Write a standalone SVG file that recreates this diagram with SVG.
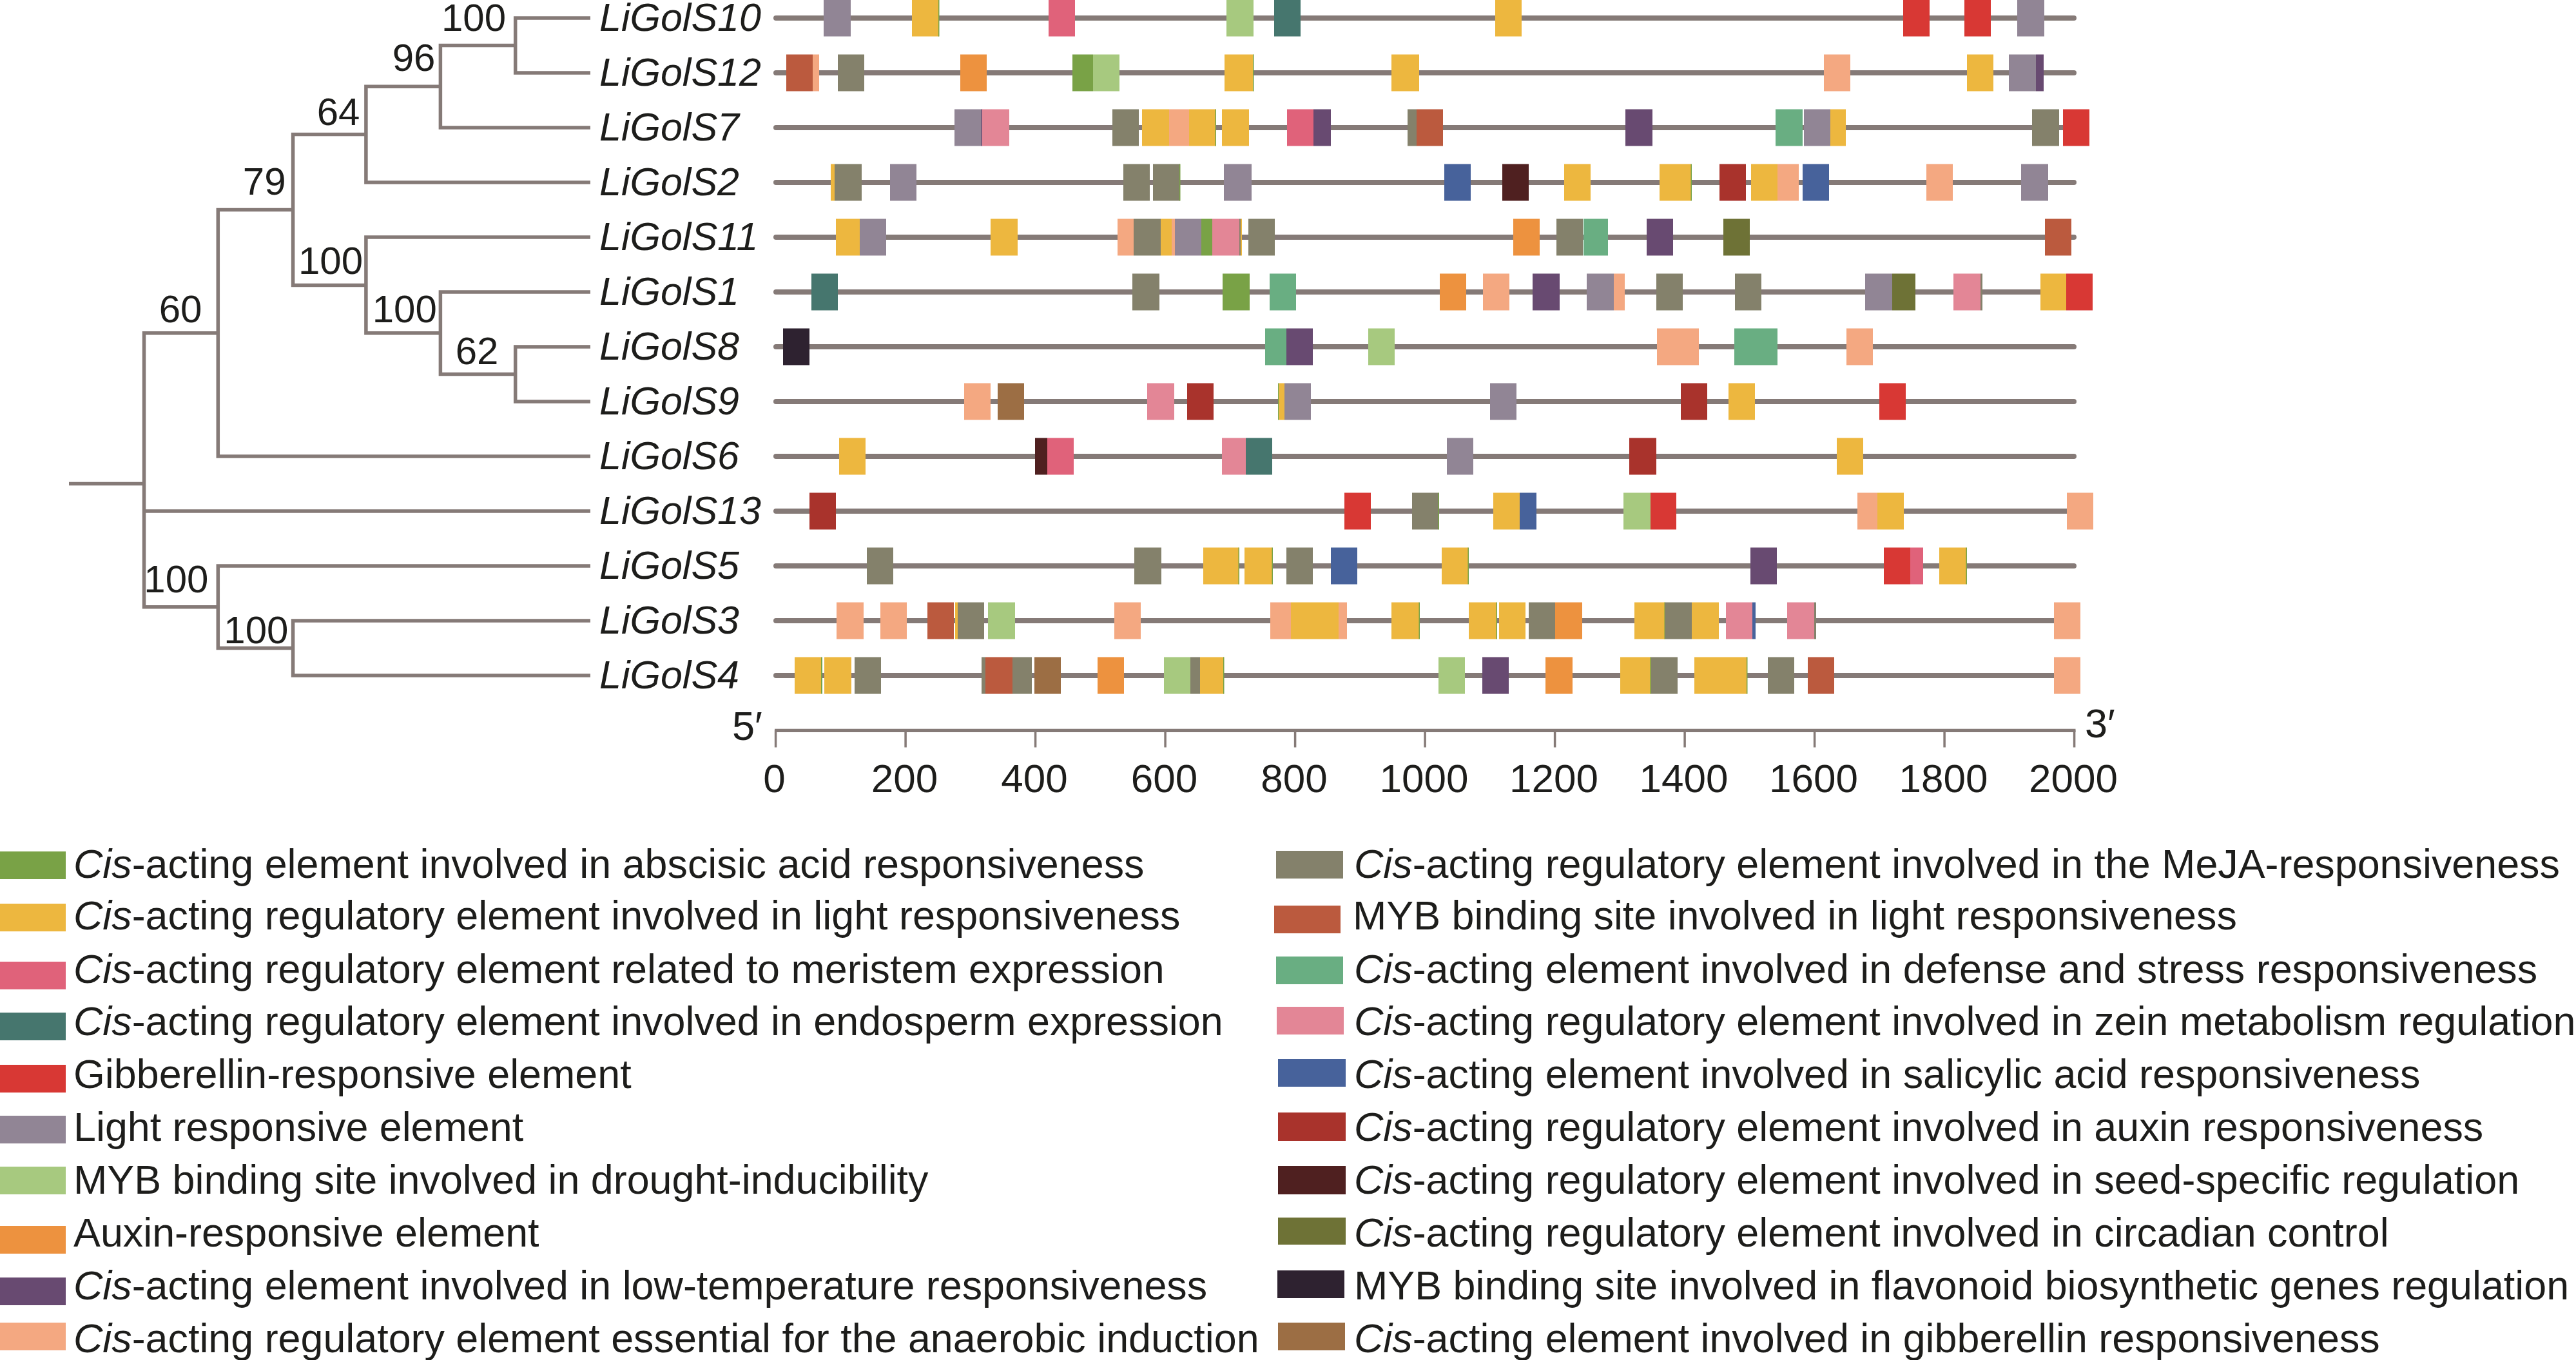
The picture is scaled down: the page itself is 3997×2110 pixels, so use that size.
<svg xmlns="http://www.w3.org/2000/svg" width="3997" height="2110" viewBox="0 0 3997 2110">
<style>
text{font-family:"Liberation Sans",Arial,sans-serif;fill:#1d1d1b}
.lab{font-size:61px;font-style:italic}
.bs{font-size:60px;text-anchor:end}
.ax{font-size:62px;text-anchor:middle}
.lg{font-size:62.8px}
.tr{stroke:#857a77;stroke-width:8;stroke-linecap:round;fill:none}
.tree{stroke:#857a77;stroke-width:5.5;fill:none;stroke-linejoin:miter}
.aba{fill:#79a246}.lr{fill:#edb73f}.mer{fill:#e0627a}.endo{fill:#46766e}.ga{fill:#d83834}
.lre{fill:#918595}.dro{fill:#a7c97f}.aux{fill:#ed923f}.lt{fill:#684a71}.ana{fill:#f4a881}
.mj{fill:#84816b}.myl{fill:#bb5a3e}.def{fill:#69ae82}.zein{fill:#e38696}.sa{fill:#47629b}
.auxr{fill:#a9332c}.seed{fill:#4f2020}.circ{fill:#6e7236}.flav{fill:#2e2230}.gab{fill:#9c6e44}
</style>

<g id="connectors">
<path class="tree" d="M107,750.5 H223.5 M338.3,516.75 H223.5 V941.75 H338.3 M223.5,793 H916"/>
<path class="tree" d="M454.6,325.5 H338.3 V708 H916"/>
<path class="tree" d="M567.9,208.6 H454.6 V442.4 H567.9"/>
<path class="tree" d="M683.4,134.25 H567.9 V283 H916"/>
<path class="tree" d="M799.7,70.5 H683.4 V198 H916"/>
<path class="tree" d="M916,28 H799.7 V113 H916"/>
<path class="tree" d="M916,368 H567.9 V516.75 H683.4"/>
<path class="tree" d="M916,453 H683.4 V580.5 H799.7"/>
<path class="tree" d="M916,538 H799.7 V623 H916"/>
<path class="tree" d="M916,878 H338.3 V1005.5 H454.6"/>
<path class="tree" d="M916,963 H454.6 V1048 H916"/>
</g>

<g id="bootstrap">
<text class="bs" x="785" y="47.7">100</text>
<text class="bs" x="675.5" y="110">96</text>
<text class="bs" x="558.4" y="194.3">64</text>
<text class="bs" x="443.6" y="301.6">79</text>
<text class="bs" x="313.5" y="499.5">60</text>
<text class="bs" x="563" y="425.1">100</text>
<text class="bs" x="677.8" y="499.5">100</text>
<text class="bs" x="773.4" y="564.7">62</text>
<text class="bs" x="323.4" y="919">100</text>
<text class="bs" x="447.4" y="997.6">100</text>
</g>

<g id="row-LiGolS10" transform="translate(0,0)">
<text class="lab" x="930" y="47.8">LiGolS10</text>
<path class="tr" d="M1204,28 H3218"/>
<rect class="lre" x="1278" y="-0.5" width="42" height="57"/>
<rect class="lr" x="1415" y="-0.5" width="42" height="57"/>
<rect class="aba" x="1456" y="-0.5" width="1.5" height="57"/>
<rect class="mer" x="1627" y="-0.5" width="41" height="57"/>
<rect class="dro" x="1903" y="-0.5" width="42" height="57"/>
<rect class="endo" x="1977" y="-0.5" width="41" height="57"/>
<rect class="lr" x="2320" y="-0.5" width="41" height="57"/>
<rect class="ga" x="2953" y="-0.5" width="41" height="57"/>
<rect class="ga" x="3048" y="-0.5" width="41" height="57"/>
<rect class="lre" x="3130" y="-0.5" width="42" height="57"/>
</g>

<g id="row-LiGolS12" transform="translate(0,85)">
<text class="lab" x="930" y="47.8">LiGolS12</text>
<path class="tr" d="M1204,28 H3218"/>
<rect class="myl" x="1220" y="-0.5" width="41" height="57"/>
<rect class="ana" x="1261" y="-0.5" width="10" height="57"/>
<rect class="mj" x="1300" y="-0.5" width="41" height="57"/>
<rect class="aux" x="1490" y="-0.5" width="41" height="57"/>
<rect class="aba" x="1664" y="-0.5" width="32" height="57"/>
<rect class="dro" x="1696" y="-0.5" width="41" height="57"/>
<rect class="lr" x="1900" y="-0.5" width="45" height="57"/>
<rect class="aba" x="1944" y="-0.5" width="1.5" height="57"/>
<rect class="lr" x="2159" y="-0.5" width="43" height="57"/>
<rect class="ana" x="2830" y="-0.5" width="41" height="57"/>
<rect class="lr" x="3052" y="-0.5" width="41" height="57"/>
<rect class="lre" x="3117" y="-0.5" width="42" height="57"/>
<rect class="lt" x="3159" y="-0.5" width="12" height="57"/>
</g>

<g id="row-LiGolS7" transform="translate(0,170)">
<text class="lab" x="930" y="47.8">LiGolS7</text>
<path class="tr" d="M1204,28 H3218"/>
<rect class="lre" x="1481" y="-0.5" width="42" height="57"/>
<rect class="lt" x="1522.6" y="-0.5" width="1.6" height="57"/>
<rect class="zein" x="1524" y="-0.5" width="42" height="57"/>
<rect class="mj" x="1726" y="-0.5" width="41" height="57"/>
<rect class="lr" x="1772" y="-0.5" width="42" height="57"/>
<rect class="ana" x="1814" y="-0.5" width="31" height="57"/>
<rect class="lr" x="1845" y="-0.5" width="41.5" height="57"/>
<rect class="aba" x="1885.5" y="-0.5" width="1.5" height="57"/>
<rect class="lr" x="1896" y="-0.5" width="42" height="57"/>
<rect class="mer" x="1997" y="-0.5" width="41" height="57"/>
<rect class="lt" x="2038" y="-0.5" width="27" height="57"/>
<rect class="mj" x="2184" y="-0.5" width="14" height="57"/>
<rect class="myl" x="2198" y="-0.5" width="41" height="57"/>
<rect class="lt" x="2522" y="-0.5" width="42" height="57"/>
<rect class="def" x="2755" y="-0.5" width="42" height="57"/>
<rect class="lre" x="2799" y="-0.5" width="41" height="57"/>
<rect class="lr" x="2840" y="-0.5" width="24" height="57"/>
<rect class="mj" x="3153" y="-0.5" width="42" height="57"/>
<rect class="ga" x="3201" y="-0.5" width="41" height="57"/>
</g>

<g id="row-LiGolS2" transform="translate(0,255)">
<text class="lab" x="930" y="47.8">LiGolS2</text>
<path class="tr" d="M1204,28 H3218"/>
<rect class="lr" x="1289" y="-0.5" width="6" height="57"/>
<rect class="mj" x="1295" y="-0.5" width="42" height="57"/>
<rect class="lre" x="1381" y="-0.5" width="41" height="57"/>
<rect class="mj" x="1743" y="-0.5" width="41" height="57"/>
<rect class="mj" x="1789" y="-0.5" width="42" height="57"/>
<rect class="aba" x="1830" y="-0.5" width="1.5" height="57"/>
<rect class="lre" x="1899" y="-0.5" width="43" height="57"/>
<rect class="sa" x="2241" y="-0.5" width="41" height="57"/>
<rect class="seed" x="2331" y="-0.5" width="41" height="57"/>
<rect class="lr" x="2427" y="-0.5" width="41" height="57"/>
<rect class="lr" x="2575" y="-0.5" width="49" height="57"/>
<rect class="aba" x="2623.5" y="-0.5" width="1.5" height="57"/>
<rect class="auxr" x="2668" y="-0.5" width="41" height="57"/>
<rect class="lr" x="2717" y="-0.5" width="41" height="57"/>
<rect class="ana" x="2758" y="-0.5" width="33" height="57"/>
<rect class="sa" x="2797" y="-0.5" width="41" height="57"/>
<rect class="ana" x="2989" y="-0.5" width="41" height="57"/>
<rect class="lre" x="3136" y="-0.5" width="42" height="57"/>
</g>

<g id="row-LiGolS11" transform="translate(0,340)">
<text class="lab" x="930" y="47.8">LiGolS11</text>
<path class="tr" d="M1204,28 H3218"/>
<rect class="lr" x="1297" y="-0.5" width="37" height="57"/>
<rect class="lre" x="1334" y="-0.5" width="41" height="57"/>
<rect class="lr" x="1537" y="-0.5" width="42" height="57"/>
<rect class="ana" x="1734" y="-0.5" width="25" height="57"/>
<rect class="mj" x="1759" y="-0.5" width="42" height="57"/>
<rect class="lr" x="1801" y="-0.5" width="17" height="57"/>
<rect class="ana" x="1818" y="-0.5" width="5" height="57"/>
<rect class="lre" x="1823" y="-0.5" width="41" height="57"/>
<rect class="aba" x="1864" y="-0.5" width="17" height="57"/>
<rect class="zein" x="1881" y="-0.5" width="42" height="57"/>
<rect class="mj" x="1923" y="-0.5" width="2" height="57"/>
<rect class="lr" x="1925" y="-0.5" width="2" height="57"/>
<rect class="mj" x="1937" y="-0.5" width="41" height="57"/>
<rect class="aux" x="2348" y="-0.5" width="41" height="57"/>
<rect class="mj" x="2415" y="-0.5" width="41" height="57"/>
<rect class="def" x="2457" y="-0.5" width="38" height="57"/>
<rect class="lt" x="2555" y="-0.5" width="41" height="57"/>
<rect class="circ" x="2674" y="-0.5" width="41" height="57"/>
<rect class="myl" x="3173" y="-0.5" width="41" height="57"/>
</g>

<g id="row-LiGolS1" transform="translate(0,425)">
<text class="lab" x="930" y="47.8">LiGolS1</text>
<path class="tr" d="M1204,28 H3218"/>
<rect class="endo" x="1259" y="-0.5" width="41" height="57"/>
<rect class="mj" x="1757" y="-0.5" width="42" height="57"/>
<rect class="aba" x="1897" y="-0.5" width="42" height="57"/>
<rect class="def" x="1970" y="-0.5" width="41" height="57"/>
<rect class="aux" x="2234" y="-0.5" width="41" height="57"/>
<rect class="ana" x="2301" y="-0.5" width="41" height="57"/>
<rect class="lt" x="2378" y="-0.5" width="42" height="57"/>
<rect class="lre" x="2462" y="-0.5" width="42" height="57"/>
<rect class="ana" x="2504" y="-0.5" width="17" height="57"/>
<rect class="mj" x="2570" y="-0.5" width="41" height="57"/>
<rect class="mj" x="2692" y="-0.5" width="41" height="57"/>
<rect class="lre" x="2894" y="-0.5" width="42" height="57"/>
<rect class="circ" x="2936" y="-0.5" width="36" height="57"/>
<rect class="zein" x="3031" y="-0.5" width="42" height="57"/>
<rect class="mj" x="3073" y="-0.5" width="3" height="57"/>
<rect class="lr" x="3166" y="-0.5" width="40" height="57"/>
<rect class="ga" x="3206" y="-0.5" width="41" height="57"/>
</g>

<g id="row-LiGolS8" transform="translate(0,510)">
<text class="lab" x="930" y="47.8">LiGolS8</text>
<path class="tr" d="M1204,28 H3218"/>
<rect class="flav" x="1215" y="-0.5" width="41" height="57"/>
<rect class="def" x="1963" y="-0.5" width="33" height="57"/>
<rect class="lt" x="1996" y="-0.5" width="41" height="57"/>
<rect class="dro" x="2123" y="-0.5" width="41" height="57"/>
<rect class="ana" x="2571" y="-0.5" width="65" height="57"/>
<rect class="def" x="2691" y="-0.5" width="67" height="57"/>
<rect class="ana" x="2865" y="-0.5" width="41" height="57"/>
</g>

<g id="row-LiGolS9" transform="translate(0,595)">
<text class="lab" x="930" y="47.8">LiGolS9</text>
<path class="tr" d="M1204,28 H3218"/>
<rect class="ana" x="1496" y="-0.5" width="41" height="57"/>
<rect class="gab" x="1548" y="-0.5" width="41" height="57"/>
<rect class="zein" x="1780" y="-0.5" width="42" height="57"/>
<rect class="auxr" x="1842" y="-0.5" width="41" height="57"/>
<rect class="aba" x="1983" y="-0.5" width="1.5" height="57"/>
<rect class="lr" x="1984.4" y="-0.5" width="8.8" height="57"/>
<rect class="lre" x="1993" y="-0.5" width="41" height="57"/>
<rect class="lre" x="2312" y="-0.5" width="41" height="57"/>
<rect class="auxr" x="2608" y="-0.5" width="41" height="57"/>
<rect class="lr" x="2682" y="-0.5" width="41" height="57"/>
<rect class="ga" x="2916" y="-0.5" width="41" height="57"/>
</g>

<g id="row-LiGolS6" transform="translate(0,680)">
<text class="lab" x="930" y="47.8">LiGolS6</text>
<path class="tr" d="M1204,28 H3218"/>
<rect class="lr" x="1302" y="-0.5" width="41" height="57"/>
<rect class="seed" x="1606" y="-0.5" width="19" height="57"/>
<rect class="mer" x="1625" y="-0.5" width="41" height="57"/>
<rect class="zein" x="1896" y="-0.5" width="37" height="57"/>
<rect class="endo" x="1933" y="-0.5" width="41" height="57"/>
<rect class="lre" x="2245" y="-0.5" width="41" height="57"/>
<rect class="auxr" x="2528" y="-0.5" width="42" height="57"/>
<rect class="lr" x="2850" y="-0.5" width="41" height="57"/>
</g>

<g id="row-LiGolS13" transform="translate(0,765)">
<text class="lab" x="930" y="47.8">LiGolS13</text>
<path class="tr" d="M1204,28 H3218"/>
<rect class="auxr" x="1256" y="-0.5" width="41" height="57"/>
<rect class="ga" x="2086" y="-0.5" width="41" height="57"/>
<rect class="mj" x="2191" y="-0.5" width="41" height="57"/>
<rect class="aba" x="2231.5" y="-0.5" width="1.5" height="57"/>
<rect class="lr" x="2317" y="-0.5" width="41" height="57"/>
<rect class="sa" x="2358" y="-0.5" width="26" height="57"/>
<rect class="dro" x="2519" y="-0.5" width="42" height="57"/>
<rect class="ga" x="2561" y="-0.5" width="40" height="57"/>
<rect class="ana" x="2882" y="-0.5" width="31" height="57"/>
<rect class="lr" x="2913" y="-0.5" width="41" height="57"/>
<rect class="ana" x="3207" y="-0.5" width="41" height="57"/>
</g>

<g id="row-LiGolS5" transform="translate(0,850)">
<text class="lab" x="930" y="47.8">LiGolS5</text>
<path class="tr" d="M1204,28 H3218"/>
<rect class="mj" x="1345" y="-0.5" width="41" height="57"/>
<rect class="mj" x="1760" y="-0.5" width="42" height="57"/>
<rect class="lr" x="1867" y="-0.5" width="55" height="57"/>
<rect class="aba" x="1921.5" y="-0.5" width="1.5" height="57"/>
<rect class="lr" x="1931" y="-0.5" width="43" height="57"/>
<rect class="aba" x="1973.5" y="-0.5" width="1.5" height="57"/>
<rect class="mj" x="1996" y="-0.5" width="41" height="57"/>
<rect class="sa" x="2065" y="-0.5" width="41" height="57"/>
<rect class="lr" x="2237" y="-0.5" width="41" height="57"/>
<rect class="aba" x="2277.5" y="-0.5" width="1.5" height="57"/>
<rect class="lt" x="2716" y="-0.5" width="41" height="57"/>
<rect class="ga" x="2923" y="-0.5" width="41" height="57"/>
<rect class="mer" x="2964" y="-0.5" width="20" height="57"/>
<rect class="lr" x="3009" y="-0.5" width="42" height="57"/>
<rect class="aba" x="3050.5" y="-0.5" width="1.5" height="57"/>
</g>

<g id="row-LiGolS3" transform="translate(0,935)">
<text class="lab" x="930" y="47.8">LiGolS3</text>
<path class="tr" d="M1204,28 H3218"/>
<rect class="ana" x="1298" y="-0.5" width="42" height="57"/>
<rect class="ana" x="1366" y="-0.5" width="41" height="57"/>
<rect class="myl" x="1439" y="-0.5" width="41" height="57"/>
<rect class="lr" x="1482" y="-0.5" width="4" height="57"/>
<rect class="mj" x="1486" y="-0.5" width="41" height="57"/>
<rect class="dro" x="1533" y="-0.5" width="42" height="57"/>
<rect class="ana" x="1729" y="-0.5" width="41" height="57"/>
<rect class="ana" x="1971" y="-0.5" width="32" height="57"/>
<rect class="lr" x="2003" y="-0.5" width="74" height="57"/>
<rect class="ana" x="2077" y="-0.5" width="13" height="57"/>
<rect class="lr" x="2159" y="-0.5" width="43" height="57"/>
<rect class="aba" x="2201.5" y="-0.5" width="1.5" height="57"/>
<rect class="lr" x="2279" y="-0.5" width="43" height="57"/>
<rect class="aba" x="2321.5" y="-0.5" width="1.5" height="57"/>
<rect class="lr" x="2326" y="-0.5" width="41" height="57"/>
<rect class="mj" x="2372" y="-0.5" width="41" height="57"/>
<rect class="aux" x="2413" y="-0.5" width="42" height="57"/>
<rect class="lr" x="2536" y="-0.5" width="47" height="57"/>
<rect class="aba" x="2582.5" y="-0.5" width="1.5" height="57"/>
<rect class="mj" x="2583.5" y="-0.5" width="41.5" height="57"/>
<rect class="lr" x="2625" y="-0.5" width="42" height="57"/>
<rect class="zein" x="2678" y="-0.5" width="41" height="57"/>
<rect class="sa" x="2719" y="-0.5" width="5" height="57"/>
<rect class="zein" x="2773" y="-0.5" width="42" height="57"/>
<rect class="mj" x="2815" y="-0.5" width="3" height="57"/>
<rect class="ana" x="3187" y="-0.5" width="41" height="57"/>
</g>

<g id="row-LiGolS4" transform="translate(0,1020)">
<text class="lab" x="930" y="47.8">LiGolS4</text>
<path class="tr" d="M1204,28 H3218"/>
<rect class="lr" x="1233" y="-0.5" width="41" height="57"/>
<rect class="aba" x="1274" y="-0.5" width="2" height="57"/>
<rect class="lr" x="1279" y="-0.5" width="42" height="57"/>
<rect class="mj" x="1326" y="-0.5" width="41" height="57"/>
<rect class="mj" x="1523" y="-0.5" width="6" height="57"/>
<rect class="myl" x="1529" y="-0.5" width="42" height="57"/>
<rect class="mj" x="1571" y="-0.5" width="30" height="57"/>
<rect class="gab" x="1605" y="-0.5" width="41" height="57"/>
<rect class="aux" x="1703" y="-0.5" width="41" height="57"/>
<rect class="dro" x="1806" y="-0.5" width="41" height="57"/>
<rect class="mj" x="1847" y="-0.5" width="15" height="57"/>
<rect class="lr" x="1862" y="-0.5" width="37" height="57"/>
<rect class="aba" x="1898" y="-0.5" width="1.5" height="57"/>
<rect class="dro" x="2232" y="-0.5" width="41" height="57"/>
<rect class="lt" x="2300" y="-0.5" width="41" height="57"/>
<rect class="aux" x="2398" y="-0.5" width="42" height="57"/>
<rect class="lr" x="2514" y="-0.5" width="47" height="57"/>
<rect class="aba" x="2560.5" y="-0.5" width="1.5" height="57"/>
<rect class="mj" x="2562" y="-0.5" width="41" height="57"/>
<rect class="lr" x="2629" y="-0.5" width="82" height="57"/>
<rect class="aba" x="2710" y="-0.5" width="1.5" height="57"/>
<rect class="mj" x="2743" y="-0.5" width="41" height="57"/>
<rect class="myl" x="2805" y="-0.5" width="41" height="57"/>
<rect class="ana" x="3187" y="-0.5" width="41" height="57"/>
</g>

<g id="axis">
<path d="M1202,1133.3 H3220.5" stroke="#857a77" stroke-width="5.3" fill="none"/>
<path d="M1203.6,1133 V1159.5 M1405.1,1133 V1159.5 M1606.6,1133 V1159.5 M1808.1,1133 V1159.5 M2009.6,1133 V1159.5 M2211.1,1133 V1159.5 M2412.6,1133 V1159.5 M2614.1,1133 V1159.5 M2815.6,1133 V1159.5 M3017.1,1133 V1159.5 M3218.6,1133 V1159.5" stroke="#857a77" stroke-width="3.5" fill="none"/>
<text style="font-size:63px" x="1136" y="1148">5′</text>
<text style="font-size:63px" x="3235" y="1143.5">3′</text>
<text class="ax" x="1201.5" y="1229.3">0</text>
<text class="ax" x="1403.5" y="1229.3">200</text>
<text class="ax" x="1605" y="1229.3">400</text>
<text class="ax" x="1806.5" y="1229.3">600</text>
<text class="ax" x="2008" y="1229.3">800</text>
<text class="ax" x="2209.5" y="1229.3">1000</text>
<text class="ax" x="2411" y="1229.3">1200</text>
<text class="ax" x="2612.5" y="1229.3">1400</text>
<text class="ax" x="2814" y="1229.3">1600</text>
<text class="ax" x="3015.5" y="1229.3">1800</text>
<text class="ax" x="3217" y="1229.3">2000</text>
</g>

<g id="legend">
<g id="lg-aba"><rect class="aba" x="0" y="1321" width="102" height="43"/><text class="lg" x="114" y="1362"><tspan font-style="italic">Cis</tspan>-acting element involved in abscisic acid responsiveness</text></g>
<g id="lg-lr"><rect class="lr" x="0" y="1402" width="102" height="43"/><text class="lg" x="114" y="1441.5"><tspan font-style="italic">Cis</tspan>-acting regulatory element involved in light responsiveness</text></g>
<g id="lg-mer"><rect class="mer" x="0" y="1492" width="102" height="43"/><text class="lg" x="114" y="1524.6"><tspan font-style="italic">Cis</tspan>-acting regulatory element related to meristem expression</text></g>
<g id="lg-endo"><rect class="endo" x="0" y="1571" width="102" height="43"/><text class="lg" x="114" y="1605.6"><tspan font-style="italic">Cis</tspan>-acting regulatory element involved in endosperm expression</text></g>
<g id="lg-ga"><rect class="ga" x="0" y="1652" width="102" height="43"/><text class="lg" x="114" y="1687.6">Gibberellin-responsive element</text></g>
<g id="lg-lre"><rect class="lre" x="0" y="1731" width="102" height="43"/><text class="lg" x="114" y="1769.7">Light responsive element</text></g>
<g id="lg-dro"><rect class="dro" x="0" y="1810" width="102" height="43"/><text class="lg" x="114" y="1851.7">MYB binding site involved in drought-inducibility</text></g>
<g id="lg-aux"><rect class="aux" x="0" y="1902" width="102" height="43"/><text class="lg" x="114" y="1933.8">Auxin-responsive element</text></g>
<g id="lg-lt"><rect class="lt" x="0" y="1982" width="102" height="43"/><text class="lg" x="114" y="2015.8"><tspan font-style="italic">Cis</tspan>-acting element involved in low-temperature responsiveness</text></g>
<g id="lg-ana"><rect class="ana" x="0" y="2052" width="102" height="43"/><text class="lg" x="114" y="2098"><tspan font-style="italic">Cis</tspan>-acting regulatory element essential for the anaerobic induction</text></g>

<g id="lg-mj"><rect class="mj" x="1980" y="1320" width="104" height="43"/><text class="lg" x="2101" y="1362"><tspan font-style="italic">Cis</tspan>-acting regulatory element involved in the MeJA-responsiveness</text></g>
<g id="lg-myl"><rect class="myl" x="1977" y="1405" width="103" height="43"/><text class="lg" x="2099" y="1441.5">MYB binding site involved in light responsiveness</text></g>
<g id="lg-def"><rect class="def" x="1980" y="1484" width="104" height="43"/><text class="lg" x="2101" y="1524.6"><tspan font-style="italic">Cis</tspan>-acting element involved in defense and stress responsiveness</text></g>
<g id="lg-zein"><rect class="zein" x="1981" y="1562" width="104" height="43"/><text class="lg" x="2101" y="1605.6"><tspan font-style="italic">Cis</tspan>-acting regulatory element involved in zein metabolism regulation</text></g>
<g id="lg-sa"><rect class="sa" x="1983" y="1643" width="105" height="43"/><text class="lg" x="2101" y="1687.6"><tspan font-style="italic">Cis</tspan>-acting element involved in salicylic acid responsiveness</text></g>
<g id="lg-auxr"><rect class="auxr" x="1983" y="1726" width="105" height="44"/><text class="lg" x="2101" y="1769.7"><tspan font-style="italic">Cis</tspan>-acting regulatory element involved in auxin responsiveness</text></g>
<g id="lg-seed"><rect class="seed" x="1983" y="1809" width="105" height="44"/><text class="lg" x="2101" y="1851.7"><tspan font-style="italic">Cis</tspan>-acting regulatory element involved in seed-specific regulation</text></g>
<g id="lg-circ"><rect class="circ" x="1983" y="1889" width="105" height="42"/><text class="lg" x="2101" y="1933.8"><tspan font-style="italic">Cis</tspan>-acting regulatory element involved in circadian control</text></g>
<g id="lg-flav"><rect class="flav" x="1982" y="1971" width="104" height="43"/><text class="lg" x="2101" y="2015.8">MYB binding site involved in flavonoid biosynthetic genes regulation</text></g>
<g id="lg-gab"><rect class="gab" x="1983" y="2052" width="104" height="43"/><text class="lg" x="2101" y="2098"><tspan font-style="italic">Cis</tspan>-acting element involved in gibberellin responsiveness</text></g>
</g>
</svg>
